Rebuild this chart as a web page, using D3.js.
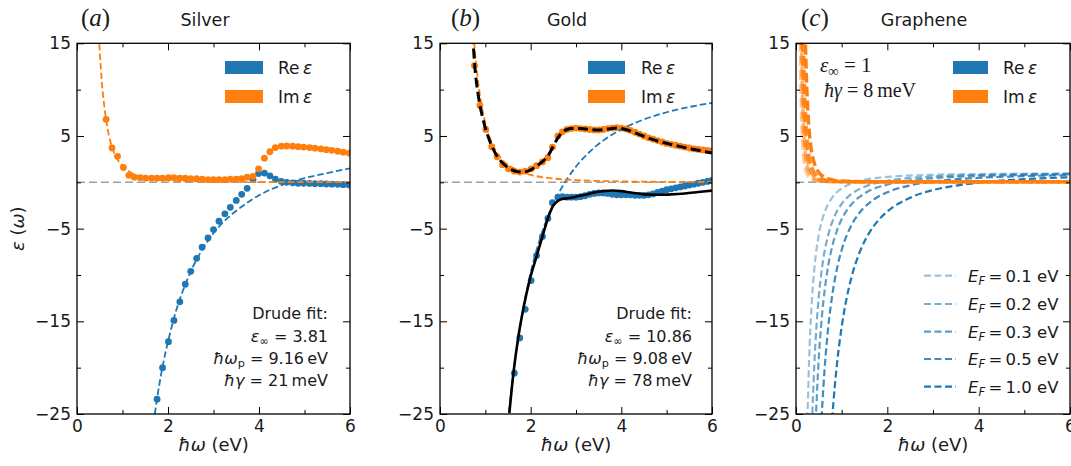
<!DOCTYPE html>
<html>
<head>
<meta charset="utf-8">
<script src="https://cdn.jsdelivr.net/npm/d3@7"></script>
<style>
  body { margin: 0; background: #fff; }
  text { font-family: "DejaVu Sans", sans-serif; fill: #1a1a1a; }
</style>
</head>
<body>
<svg id="chart" width="1071" height="466"></svg>
<script>
// ---- silver (panel a): measured points
const agEnergy = [0.64, 0.77, 0.89, 1.02, 1.14, 1.26, 1.39, 1.51, 1.64, 1.76, 1.88, 2.01, 2.13, 2.26, 2.38, 2.50,
  2.63, 2.75, 2.88, 3.00, 3.12, 3.25, 3.37, 3.50, 3.62, 3.74, 3.87, 3.99, 4.12, 4.24, 4.36, 4.49, 4.61, 4.74,
  4.86, 4.98, 5.11, 5.23, 5.36, 5.48, 5.60, 5.73, 5.85, 5.98];
const agRe = [null, null, null, null, null, null, null, null, null, -23.4, -20.0, -17.2, -14.9, -12.9, -11.0, -9.6,
  -8.2, -7.0, -6.0, -5.1, -4.2, -3.4, -2.7, -1.95, -1.3, -0.65, 0.3, 0.95, 1.0, 0.7, 0.35, 0.1, 0.0, -0.05,
  -0.1, -0.1, -0.12, -0.15, -0.15, -0.18, -0.2, -0.22, -0.25, -0.28];
const agIm = [6.8, 3.7, 2.8, 1.6, 0.75, 0.55, 0.5, 0.45, 0.45, 0.45, 0.45, 0.5, 0.5, 0.45, 0.45, 0.4,
  0.4, 0.35, 0.3, 0.3, 0.3, 0.3, 0.35, 0.35, 0.4, 0.55, 0.65, 1.45, 2.6, 3.3, 3.75, 3.9, 3.92, 3.9,
  3.85, 3.8, 3.75, 3.68, 3.6, 3.52, 3.45, 3.35, 3.25, 3.15];
// silver Drude fit curves
const agFitReE = [1.71, 1.8, 1.9, 2.0, 2.2, 2.4, 2.6, 2.8, 3.0, 3.3, 3.6, 4.0, 4.5, 5.0, 5.5, 6.0];
const agFitRe = [-25, -22.1, -19.4, -17.2, -13.5, -10.8, -8.6, -6.9, -5.5, -3.9, -2.7, -1.4, -0.3, 0.45, 1.0, 1.5];
const agFitImE = [0.46, 0.5, 0.55, 0.6, 0.7, 0.8, 0.9, 1.0, 1.2, 1.5, 2.0, 3.0, 4.0, 6.0];
const agFitIm = [18, 14.1, 10.6, 8.2, 5.1, 3.4, 2.4, 1.8, 1.0, 0.52, 0.22, 0.07, 0.03, 0.01];

// ---- gold (panel b): measured points
const auSparseE = [0.76, 0.88, 1.01, 1.14, 1.26, 1.38, 1.51, 1.64, 1.76, 1.88, 2.01, 2.13, 2.26, 2.38, 2.48];
const auSparseRe = [null, null, null, null, null, null, null, -20.6, -16.8, -13.7, -10.6, -7.9, -5.85, -3.9, -2.2];
const auSparseIm = [12.6, 8.3, 5.7, 3.85, 2.75, 1.9, 1.45, 1.2, 1.1, 1.2, 1.45, 1.8, 2.2, 2.65, 3.8];
const auDenseE = [2.6, 2.7, 2.8, 2.9, 3.0, 3.1, 3.2, 3.3, 3.4, 3.5, 3.6, 3.7, 3.8, 3.9, 4.0, 4.1, 4.2, 4.3,
  4.4, 4.5, 4.6, 4.7, 4.8, 4.9, 5.0, 5.1, 5.2, 5.3, 5.4, 5.5, 5.6, 5.7, 5.8, 5.9, 6.0];
const auDenseRe = [-1.6, -1.55, -1.6, -1.6, -1.6, -1.55, -1.45, -1.3, -1.2, -1.15, -1.15, -1.2, -1.3, -1.35,
  -1.35, -1.35, -1.35, -1.4, -1.4, -1.4, -1.35, -1.25, -1.1, -0.95, -0.8, -0.7, -0.6, -0.5, -0.4, -0.3,
  -0.2, -0.1, 0.0, 0.1, 0.2];
const auDenseIm = [5.0, 5.45, 5.7, 5.8, 5.85, 5.8, 5.75, 5.7, 5.65, 5.65, 5.7, 5.8, 5.85, 5.9, 5.85, 5.75, 5.6,
  5.4, 5.2, 5.0, 4.8, 4.65, 4.5, 4.35, 4.2, 4.1, 4.0, 3.9, 3.8, 3.7, 3.6, 3.55, 3.5, 3.45, 3.4];
// gold Drude fit
const auFitReE = [1.52, 1.6, 1.8, 2.0, 2.2, 2.4, 2.6, 2.8, 3.0, 3.3, 3.6, 4.0, 4.5, 5.0, 5.5, 6.0];
const auFitRe = [-24.8, -21.35, -14.6, -9.75, -6.17, -3.45, -1.34, 0.34, 1.7, 3.29, 4.5, 5.71, 6.79, 7.56, 8.13, 8.57];
const auFitImE = [0.72, 0.8, 0.9, 1.0, 1.2, 1.4, 1.6, 1.8, 2.0, 2.5, 3.0, 4.0, 5.0, 6.0];
const auFitIm = [17.2, 12.6, 8.8, 6.4, 3.7, 2.3, 1.6, 1.1, 0.8, 0.41, 0.24, 0.1, 0.05, 0.03];
// gold full model (black)
const auModelReE = [1.53, 1.62, 1.73, 1.84, 1.98, 2.13, 2.28, 2.4, 2.5, 2.6, 2.7, 2.85, 3.0, 3.2, 3.4, 3.6,
  3.8, 4.0, 4.2, 4.5, 4.8, 5.1, 5.4, 5.7, 6.0];
const auModelRe = [-24.9, -20.6, -16.6, -13.6, -10.5, -8.0, -5.5, -3.6, -2.5, -2.0, -1.8, -1.7, -1.55, -1.35,
  -1.1, -0.95, -0.88, -0.95, -1.1, -1.3, -1.35, -1.3, -1.2, -1.05, -0.9];
const auModelImE = [0.72, 0.76, 0.85, 0.95, 1.05, 1.15, 1.25, 1.4, 1.55, 1.7, 1.8, 1.9, 2.0, 2.1, 2.2, 2.3,
  2.4, 2.5, 2.6, 2.7, 2.8, 2.9, 3.1, 3.3, 3.5, 3.7, 3.9, 4.1, 4.3, 4.5, 4.7, 5.0, 5.3, 5.6, 5.8, 6.0];
const auModelIm = [16.0, 13.0, 9.2, 6.8, 5.1, 3.85, 2.9, 2.0, 1.45, 1.15, 1.1, 1.15, 1.35, 1.65, 2.0, 2.4,
  3.0, 3.9, 4.8, 5.4, 5.7, 5.8, 5.8, 5.7, 5.65, 5.75, 5.85, 5.7, 5.35, 4.95, 4.6, 4.2, 3.85, 3.55, 3.35, 3.15];

// ---- graphene (panel c)
const grEF = ['0.1', '0.2', '0.3', '0.5', '1.0'];
const grReOmega = [
  [0.25, 0.3, 0.35, 0.4, 0.5, 0.6, 0.7, 0.8, 1.0, 1.2, 1.5, 2, 3, 4, 5, 6],
  [0.35, 0.4, 0.45, 0.5, 0.6, 0.7, 0.8, 1.0, 1.2, 1.5, 2, 2.5, 3, 4, 5, 6],
  [0.43, 0.5, 0.55, 0.6, 0.7, 0.8, 0.9, 1.0, 1.2, 1.5, 2, 2.5, 3, 4, 5, 6],
  [0.56, 0.6, 0.7, 0.8, 0.9, 1.0, 1.2, 1.4, 1.7, 2, 2.5, 3, 4, 5, 6],
  [0.79, 0.85, 0.9, 1.0, 1.1, 1.2, 1.4, 1.6, 1.8, 2.0, 2.5, 3, 3.5, 4, 5, 6]
];
const grRe = [
  [-25.6, -17.4, -12.6, -9.4, -5.64, -3.61, -2.39, -1.59, -0.66, -0.15, 0.26, 0.585, 0.816, 0.896, 0.934, 0.954],
  [-26.1, -19.75, -15.4, -12.28, -8.22, -5.78, -4.19, -2.32, -1.31, -0.48, 0.17, 0.47, 0.63, 0.79, 0.87, 0.91],
  [-25.9, -18.9, -15.46, -12.83, -9.16, -6.78, -5.15, -3.98, -2.46, -1.21, -0.245, 0.2, 0.447, 0.69, 0.8, 0.86],
  [-25.47, -22.06, -15.94, -11.97, -9.25, -7.3, -4.76, -3.23, -1.87, -1.075, -0.33, 0.078, 0.48, 0.67, 0.77],
  [-25.6, -21.98, -19.49, -15.6, -12.72, -10.53, -7.47, -5.48, -4.12, -3.15, -1.66, -0.84, -0.355, -0.04, 0.336, 0.539]
];
const grImOmega = [
  [0.09, 0.1, 0.11, 0.12, 0.14, 0.16, 0.2, 0.25, 0.3, 0.4, 0.5, 0.7, 1, 2, 4, 6],
  [0.11, 0.12, 0.13, 0.15, 0.18, 0.2, 0.25, 0.3, 0.4, 0.5, 0.7, 1, 2, 6],
  [0.13, 0.14, 0.16, 0.18, 0.2, 0.25, 0.3, 0.35, 0.4, 0.5, 0.7, 1, 2, 6],
  [0.15, 0.17, 0.2, 0.25, 0.3, 0.35, 0.4, 0.5, 0.6, 0.8, 1, 2, 6],
  [0.19, 0.2, 0.22, 0.25, 0.3, 0.35, 0.4, 0.5, 0.6, 0.7, 0.8, 1, 1.5, 2, 6]
];
const grIm = [
  [18.2, 13.3, 10.0, 7.7, 4.85, 3.25, 1.66, 0.85, 0.49, 0.21, 0.11, 0.08, 0.07, 0.07, 0.06, 0.06],
  [20, 15.4, 12.1, 7.9, 4.56, 3.33, 1.7, 0.99, 0.42, 0.21, 0.1, 0.07, 0.06, 0.06],
  [18.1, 14.5, 9.7, 6.8, 4.98, 2.55, 1.47, 0.93, 0.62, 0.32, 0.13, 0.07, 0.06, 0.06],
  [19.7, 13.5, 8.3, 4.25, 2.46, 1.55, 1.04, 0.53, 0.31, 0.13, 0.08, 0.06, 0.06],
  [19.4, 16.6, 12.5, 8.5, 4.93, 3.1, 2.08, 1.06, 0.62, 0.39, 0.26, 0.13, 0.07, 0.06, 0.06]
];
const grAlpha = [0.45, 0.6, 0.72, 0.86, 1.0];

const xTicks = [0, 2, 4, 6];
const xMinor = [1, 3, 5];
const yTicks = [15, 5, -5, -15, -25];
const yMinor = [10, 0, -10, -20];

const BLUE = '#1f77b4', ORANGE = '#ff7f0e';
const SERIF = '"Liberation Serif", "DejaVu Serif", serif';
const svg = d3.select('#chart');
const zip = (xs, ys) => xs.map((v, i) => [v, ys[i]]).filter(d => d[1] !== null);

const panels = [
  { left: 77, right: 350, title: 'Silver', letter: 'a', titleX: 205, letterX: 81 },
  { left: 440, right: 712, title: 'Gold', letter: 'b', titleX: 567, letterX: 451 },
  { left: 796, right: 1070, title: 'Graphene', letter: 'c', titleX: 924, letterX: 801 }
];

// text with italic / subscript pieces
function rich(g, x, y, anchor, size, parts, family) {
  const t = g.append('text').attr('x', x).attr('y', y).attr('text-anchor', anchor)
    .style('font-size', size + 'px');
  if (family) t.style('font-family', family);
  let shift = 0;
  parts.forEach(p => {
    const s = t.append('tspan').text(p.t);
    const target = p.sub ? size * 0.2 : 0;
    if (target !== shift) { s.attr('dy', target - shift); shift = target; }
    if (p.sub) s.style('font-size', (size * 0.7) + 'px');
    if (p.it) s.style('font-style', 'italic');
  });
  return t;
}

function setupPanel(p, i) {
  const x = d3.scaleLinear().domain([0, 6]).range([p.left, p.right]);
  const y = d3.scaleLinear().domain([-25, 15]).range([414, 43.3]);
  const g = svg.append('g');
  g.append('clipPath').attr('id', 'clip' + i).append('rect')
    .attr('x', p.left).attr('y', y(15)).attr('width', p.right - p.left).attr('height', y(-25) - y(15));
  const plot = g.append('g').attr('clip-path', `url(#clip${i})`);

  const clean = sel => {
    sel.select('.domain').remove();
    sel.selectAll('line').attr('stroke', '#000').attr('stroke-width', 1);
    sel.selectAll('text').style('font-size', '17px').attr('fill', '#1a1a1a').style('font-family', '"DejaVu Sans", sans-serif');
  };
  const fmt = d3.format('d');
  g.append('g').attr('transform', `translate(0,${y(-25)})`)
    .call(d3.axisBottom(x).tickValues(xTicks).tickSize(-7).tickPadding(6).tickFormat(fmt)).call(clean);
  g.append('g').attr('transform', `translate(0,${y(-25)})`)
    .call(d3.axisBottom(x).tickValues(xMinor).tickSize(-4).tickFormat('')).call(clean);
  g.append('g').attr('transform', `translate(0,${y(15)})`)
    .call(d3.axisTop(x).tickValues(xTicks).tickSize(-7).tickFormat('')).call(clean);
  g.append('g').attr('transform', `translate(0,${y(15)})`)
    .call(d3.axisTop(x).tickValues(xMinor).tickSize(-4).tickFormat('')).call(clean);
  g.append('g').attr('transform', `translate(${p.left},0)`)
    .call(d3.axisLeft(y).tickValues(yTicks).tickSize(-7).tickPadding(6).tickFormat(fmt)).call(clean);
  g.append('g').attr('transform', `translate(${p.left},0)`)
    .call(d3.axisLeft(y).tickValues(yMinor).tickSize(-4).tickFormat('')).call(clean);
  g.append('g').attr('transform', `translate(${p.right},0)`)
    .call(d3.axisRight(y).tickValues(yTicks).tickSize(-7).tickFormat('')).call(clean);
  g.append('g').attr('transform', `translate(${p.right},0)`)
    .call(d3.axisRight(y).tickValues(yMinor).tickSize(-4).tickFormat('')).call(clean);

  // zero line
  plot.append('line').attr('x1', x(0)).attr('x2', x(6)).attr('y1', y(0)).attr('y2', y(0))
    .attr('stroke', '#a0a0a0').attr('stroke-width', 1.5).attr('stroke-dasharray', '8,4');

  // titles
  g.append('text').attr('x', p.titleX).attr('y', 26).attr('text-anchor', 'middle')
    .style('font-size', '17.5px').text(p.title);
  rich(g, p.letterX, 25.5, 'start', 25, [{ t: '(' }, { t: p.letter, it: true }, { t: ')' }], SERIF);

  // x label
  rich(g, (p.left + p.right) / 2, 451, 'middle', 18, [{ t: 'ħω', it: true }, { t: ' (eV)' }]);

  return { x, y, g, plot };
}

const line = (x, y) => d3.line().x(d => x(d[0])).y(d => y(d[1])).curve(d3.curveMonotoneX);

function path(plot, x, y, data, color, width, dash, opacity) {
  plot.append('path').datum(data).attr('d', line(x, y)).attr('fill', 'none')
    .attr('stroke', color).attr('stroke-width', width)
    .attr('stroke-dasharray', dash || null).attr('stroke-opacity', opacity == null ? 1 : opacity);
}
function dots(plot, x, y, data, color, r) {
  plot.append('g').selectAll('circle').data(data).join('circle')
    .attr('cx', d => x(d[0])).attr('cy', d => y(d[1])).attr('r', r).attr('fill', color);
}
function patchLegend(g, rx, tx, w) {
  g.append('rect').attr('x', rx).attr('y', 61).attr('width', w).attr('height', 13).attr('fill', BLUE);
  g.append('rect').attr('x', rx).attr('y', 90).attr('width', w).attr('height', 13).attr('fill', ORANGE);
  rich(g, tx, 73.5, 'start', 17, [{ t: 'Re\u2009' }, { t: 'ε', it: true }]);
  rich(g, tx, 102.5, 'start', 17, [{ t: 'Im\u2009' }, { t: 'ε', it: true }]);
}
function drudeText(g, xr, eps, wp, gam) {
  g.append('text').attr('x', xr).attr('y', 319).attr('text-anchor', 'end').style('font-size', '16px').text('Drude fit:');
  rich(g, xr, 342, 'end', 16, [{ t: 'ε', it: true }, { t: '∞', sub: true }, { t: ' = ' + eps }]);
  rich(g, xr, 364, 'end', 16, [{ t: 'ħω', it: true }, { t: 'p', sub: true }, { t: ' = ' + wp + '\u2009eV' }]);
  rich(g, xr, 386, 'end', 16, [{ t: 'ħγ', it: true }, { t: ' = ' + gam + '\u2009meV' }]);
}

// ---------- panel a: silver
{
  const { x, y, g, plot } = setupPanel(panels[0], 0);
  dots(plot, x, y, zip(agEnergy, agRe), BLUE, 3.4);
  dots(plot, x, y, zip(agEnergy, agIm), ORANGE, 3.4);
  path(plot, x, y, zip(agFitReE, agFitRe), BLUE, 1.8, '6.5,3');
  path(plot, x, y, zip(agFitImE, agFitIm), ORANGE, 1.8, '6.5,3');
  patchLegend(g, 225, 278, 38);
  drudeText(g, 328, '3.81', '9.16', '21');
  rich(g, 0, 0, 'middle', 18, [{ t: 'ε', it: true }, { t: ' (' }, { t: 'ω', it: true }, { t: ')' }])
    .attr('x', null).attr('y', null).attr('transform', 'translate(24,228.7) rotate(-90)');
}

// ---------- panel b: gold
{
  const { x, y, g, plot } = setupPanel(panels[1], 1);
  dots(plot, x, y, zip(auSparseE, auSparseRe).concat(zip(auDenseE, auDenseRe)), BLUE, 3.4);
  dots(plot, x, y, zip(auSparseE, auSparseIm).concat(zip(auDenseE, auDenseIm)), ORANGE, 3.4);
  path(plot, x, y, zip(auFitReE, auFitRe), BLUE, 1.8, '6.5,3');
  path(plot, x, y, zip(auFitImE, auFitIm), ORANGE, 1.8, '6.5,3');
  path(plot, x, y, zip(auModelReE, auModelRe), '#000', 2.6, null);
  path(plot, x, y, zip(auModelImE, auModelIm), '#000', 3, '10,4.5');
  patchLegend(g, 588, 641, 37);
  drudeText(g, 692, '10.86', '9.08', '78');
}

// ---------- panel c: graphene
{
  const { x, y, g, plot } = setupPanel(panels[2], 2);
  grEF.forEach((ef, i) => path(plot, x, y, zip(grReOmega[i], grRe[i]), BLUE, 2.2, '7,3.5', grAlpha[i]));
  grEF.forEach((ef, i) => path(plot, x, y, zip(grImOmega[i], grIm[i]), ORANGE, 3.5, '10,4', grAlpha[i]));
  patchLegend(g, 953, 1003, 35);
  rich(g, 820, 72, 'start', 21, [{ t: 'ε', it: true }, { t: '∞', sub: true }, { t: ' = 1' }], SERIF);
  rich(g, 824, 96.5, 'start', 20, [{ t: 'ħγ', it: true }, { t: ' = 8\u2009meV' }], SERIF);
  const rows = [275.7, 304, 331.7, 359, 386.7];
  grEF.forEach((ef, i) => {
    g.append('line').attr('x1', 924).attr('x2', 956).attr('y1', rows[i]).attr('y2', rows[i])
      .attr('stroke', BLUE).attr('stroke-width', 2.2).attr('stroke-dasharray', '7,3.5').attr('stroke-opacity', grAlpha[i]);
    rich(g, 968, rows[i] + 6, 'start', 16.5, [{ t: 'E', it: true }, { t: 'F', it: true, sub: true }, { t: '\u2009=\u2009' + ef + ' eV' }]);
  });
}

// frames on top
panels.forEach(p => {
  svg.append('rect').attr('x', p.left).attr('y', 43.3).attr('width', p.right - p.left).attr('height', 414 - 43.3)
    .attr('fill', 'none').attr('stroke', '#000').attr('stroke-width', 1.3);
});
</script>
</body>
</html>
